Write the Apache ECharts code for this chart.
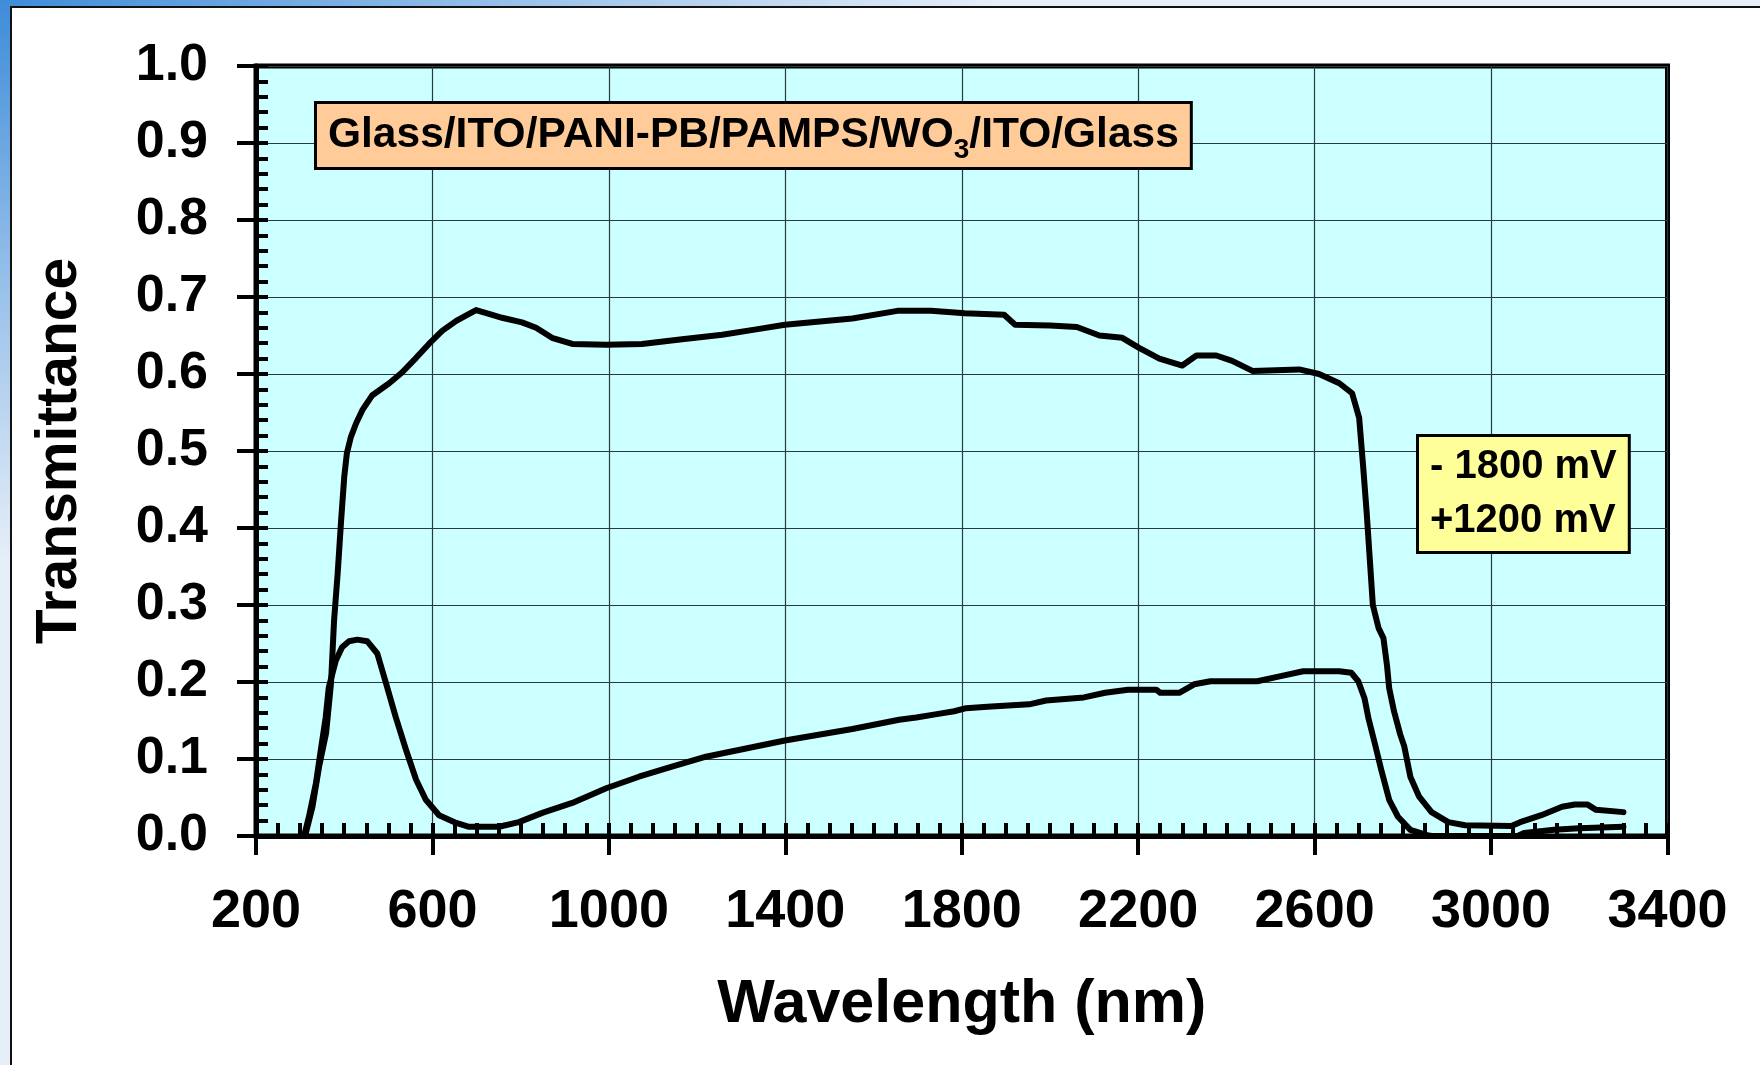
<!DOCTYPE html>
<html>
<head>
<meta charset="utf-8">
<script src="https://cdn.jsdelivr.net/npm/echarts@6/dist/echarts.min.js"></script>
<style>
  html, body { margin: 0; padding: 0; width: 1760px; height: 1065px; overflow: hidden; }
  body { background: radial-gradient(ellipse 1000px 560px at 0 0, #3e8cd8 0%, #8ebbe8 45%, #e6eef8 100%); background-color: #eef3fa; }
  #panel { position: absolute; left: 10px; top: 6px; width: 1760px; height: 1065px; background: #ffffff; border-left: 2px solid #111; border-top: 2px solid #111; }
  #chart { position: absolute; left: 0; top: 0; width: 1760px; height: 1065px; }
</style>
</head>
<body>
<div id="panel"></div>
<div id="chart"></div>
<script>
// ---- data ----
const xTickLabels = [200, 600, 1000, 1400, 1800, 2200, 2600, 3000, 3400];
const yTickLabels = ['0.0','0.1','0.2','0.3','0.4','0.5','0.6','0.7','0.8','0.9','1.0'];

// -1800 mV (bleached) curve
const bleachedWl = [305, 313, 328, 343, 359, 370, 377, 385, 393, 400, 406, 415, 427, 441, 463, 502, 531, 563, 592, 622, 654, 683, 699, 728, 758, 803, 835, 871, 917, 994, 1075, 1166, 1257, 1334, 1399, 1552, 1654, 1730, 1807, 1896, 1921, 2000, 2061, 2112, 2164, 2202, 2248, 2300, 2332, 2377, 2413, 2459, 2565, 2610, 2656, 2685, 2701, 2710, 2718, 2725, 2732, 2745, 2756, 2764, 2769, 2780, 2794, 2803, 2817, 2837, 2865, 2903, 2941, 3046, 3066, 3114, 3161, 3190, 3218, 3238, 3300];
const bleachedT  = [0.000, 0.004, 0.038, 0.090, 0.134, 0.198, 0.280, 0.340, 0.410, 0.466, 0.497, 0.518, 0.536, 0.553, 0.572, 0.588, 0.602, 0.621, 0.639, 0.656, 0.669, 0.678, 0.683, 0.678, 0.673, 0.667, 0.660, 0.647, 0.639, 0.638, 0.639, 0.645, 0.651, 0.658, 0.664, 0.672, 0.682, 0.682, 0.679, 0.677, 0.664, 0.663, 0.661, 0.650, 0.647, 0.634, 0.620, 0.611, 0.624, 0.624, 0.617, 0.604, 0.606, 0.600, 0.588, 0.575, 0.543, 0.480, 0.420, 0.360, 0.300, 0.270, 0.257, 0.222, 0.192, 0.162, 0.132, 0.117, 0.077, 0.051, 0.031, 0.018, 0.014, 0.013, 0.018, 0.027, 0.038, 0.041, 0.041, 0.034, 0.031];

// +1200 mV (colored) curve
const coloredWl = [309, 320, 336, 347, 358, 365, 381, 395, 411, 430, 452, 475, 495, 517, 540, 563, 585, 615, 654, 683, 751, 796, 849, 917, 994, 1068, 1143, 1220, 1297, 1399, 1552, 1658, 1697, 1740, 1783, 1810, 1858, 1953, 1991, 2077, 2125, 2177, 2241, 2250, 2293, 2327, 2364, 2470, 2518, 2574, 2656, 2683, 2699, 2713, 2722, 2737, 2751, 2769, 2789, 2817, 2855, 2865, 3060, 3075, 3143, 3200, 3300];
const coloredT  = [0.000, 0.025, 0.069, 0.112, 0.154, 0.193, 0.228, 0.245, 0.253, 0.255, 0.253, 0.237, 0.198, 0.154, 0.112, 0.073, 0.047, 0.027, 0.017, 0.012, 0.012, 0.018, 0.030, 0.043, 0.062, 0.077, 0.090, 0.103, 0.112, 0.124, 0.139, 0.151, 0.154, 0.158, 0.162, 0.166, 0.168, 0.171, 0.176, 0.180, 0.186, 0.190, 0.190, 0.186, 0.186, 0.197, 0.201, 0.201, 0.207, 0.214, 0.214, 0.212, 0.201, 0.179, 0.153, 0.119, 0.086, 0.047, 0.025, 0.008, 0.001, 0.000, 0.000, 0.004, 0.008, 0.010, 0.012];

const titleText = ['Glass/ITO/PANI-PB/PAMPS/WO', '3', '/ITO/Glass'];
const legendLines = ['- 1800 mV', '+1200 mV'];

// ---- chart ----
const FONT = "'Liberation Sans', Arial, sans-serif";
const pair = (xs, ys) => xs.map((x, i) => [x, ys[i]]);

const chart = echarts.init(document.getElementById('chart'), null, { renderer: 'canvas' });

const option = {
  animation: false,
  backgroundColor: 'transparent',
  grid: {
    left: 256, top: 66, right: 92.5, bottom: 229,
    show: true, backgroundColor: '#ccffff', borderColor: '#000', borderWidth: 5
  },
  xAxis: [
    {
      type: 'value', min: xTickLabels[0], max: xTickLabels[xTickLabels.length - 1], interval: 400,
      position: 'bottom',
      name: 'Wavelength (nm)', nameLocation: 'middle', nameGap: 139,
      nameTextStyle: { fontFamily: FONT, fontWeight: 'bold', fontSize: 61, color: '#000' },
      axisLine: { show: true, onZero: false, lineStyle: { color: '#000', width: 5 } },
      axisTick: { show: true, inside: false, length: 19, lineStyle: { color: '#000', width: 4 } },
      axisLabel: { show: true, margin: 49, fontFamily: FONT, fontWeight: 'bold', fontSize: 54, color: '#000',
                   formatter: v => String(xTickLabels[Math.round((v - xTickLabels[0]) / 400)]) },
      splitLine: { show: true, lineStyle: { color: '#2a3a3a', width: 1.2 } }
    },
    {
      type: 'value', min: xTickLabels[0], max: xTickLabels[xTickLabels.length - 1], interval: 50,
      position: 'bottom',
      axisLine: { show: false },
      axisTick: { show: true, inside: true, length: 13, lineStyle: { color: '#000', width: 4 } },
      axisLabel: { show: false },
      splitLine: { show: false }
    }
  ],
  yAxis: [
    {
      type: 'value', min: 0, max: 1, interval: 0.1,
      position: 'left',
      name: 'Transmittance', nameLocation: 'middle', nameGap: 167,
      nameTextStyle: { fontFamily: FONT, fontWeight: 'bold', fontSize: 57, color: '#000' },
      axisLine: { show: true, onZero: false, lineStyle: { color: '#000', width: 5 } },
      axisTick: { show: true, inside: false, length: 19, lineStyle: { color: '#000', width: 4 } },
      axisLabel: { show: true, margin: 48, fontFamily: FONT, fontWeight: 'bold', fontSize: 52, color: '#000',
                   formatter: v => yTickLabels[Math.round(v * 10)] },
      splitLine: { show: true, lineStyle: { color: '#2a3a3a', width: 1.2 } }
    },
    {
      type: 'value', min: 0, max: 1, interval: 0.02,
      position: 'left',
      axisLine: { show: false },
      axisTick: { show: true, inside: true, length: 12, lineStyle: { color: '#000', width: 4 } },
      axisLabel: { show: false },
      splitLine: { show: false }
    }
  ],
  series: [
    {
      name: '- 1800 mV', type: 'line', xAxisIndex: 0, yAxisIndex: 0,
      data: pair(bleachedWl, bleachedT),
      showSymbol: false, symbol: 'none',
      lineStyle: { color: '#000', width: 6, join: 'round', cap: 'round' },
      z: 5
    },
    {
      name: '+1200 mV', type: 'line', xAxisIndex: 0, yAxisIndex: 0,
      data: pair(coloredWl, coloredT),
      showSymbol: false, symbol: 'none',
      lineStyle: { color: '#000', width: 6, join: 'round', cap: 'round' },
      z: 5
    }
  ],
  graphic: [
    {
      type: 'text', left: 314, top: 101, z: 100,
      style: {
        text: '{b|' + titleText[0] + '}{s|' + titleText[1] + '}{b|' + titleText[2] + '}',
        rich: {
          b: { fontFamily: FONT, fontWeight: 'bold', fontSize: 42.5, lineHeight: 57, fill: '#000' },
          s: { fontFamily: FONT, fontWeight: 'bold', fontSize: 28, lineHeight: 28, verticalAlign: 'bottom', fill: '#000' }
        },
        backgroundColor: '#ffcc99', borderColor: '#000', borderWidth: 3,
        padding: [3, 11, 3, 11]
      }
    },
    {
      type: 'text', left: 1416, top: 434, z: 100,
      style: {
        text: legendLines.join('\n'),
        fontFamily: FONT, fontWeight: 'bold', fontSize: 40, lineHeight: 54, fill: '#000',
        backgroundColor: '#ffff99', borderColor: '#000', borderWidth: 3,
        padding: [3, 11, 3, 11]
      }
    }
  ]
};
chart.setOption(option);
</script>
</body>
</html>
